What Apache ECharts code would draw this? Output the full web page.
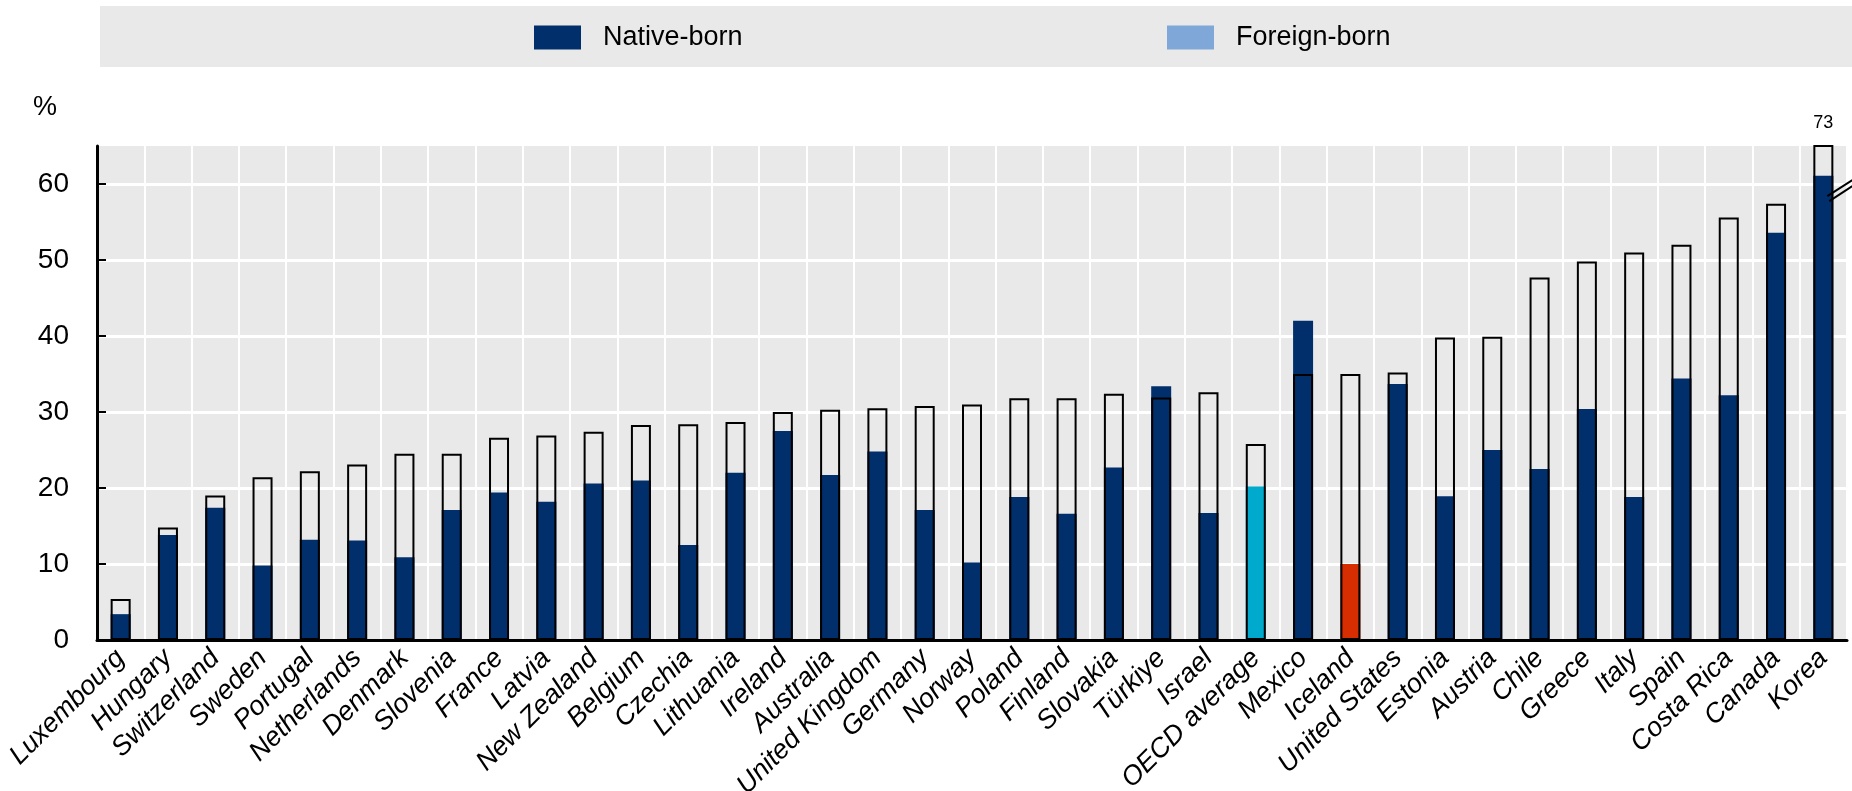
<!DOCTYPE html>
<html>
<head>
<meta charset="utf-8">
<script src="https://cdn.jsdelivr.net/npm/echarts@6/dist/echarts.min.js"></script>
<style>
  html, body { margin: 0; padding: 0; background: #fff; }
  #chart { width: 1852px; height: 791px; }
</style>
</head>
<body>
<div id="chart"></div>
<script>
// data
const countries = ['Luxembourg','Hungary','Switzerland','Sweden','Portugal','Netherlands','Denmark','Slovenia','France','Latvia',
  'New Zealand','Belgium','Czechia','Lithuania','Ireland','Australia','United Kingdom','Germany','Norway','Poland',
  'Finland','Slovakia','Türkiye','Israel','OECD average','Mexico','Iceland','United States','Estonia','Austria',
  'Chile','Greece','Italy','Spain','Costa Rica','Canada','Korea'];
const nativeBorn = [3.4,13.8,17.4,9.8,13.2,13.1,10.9,17.1,19.4,18.2,
  20.6,21.0,12.5,22.0,27.5,21.7,24.8,17.1,10.2,18.8,
  16.6,22.7,33.4,16.7,20.2,42.0,10.0,33.7,18.9,25.0,
  22.5,30.4,18.8,34.4,32.2,53.6,61.1];
const foreignBorn = [5.4,14.8,19.0,21.4,22.2,23.1,24.5,24.5,26.6,26.9,
  27.4,28.3,28.4,28.7,30.0,30.3,30.5,30.8,31.0,31.8,
  31.8,32.4,31.9,32.6,25.8,35.0,35.0,35.2,39.8,39.9,
  47.7,49.8,51.0,52.0,55.6,57.4,73];
const yTicks = [0,10,20,30,40,50,60];
const highlight = { 'OECD average': '#00aacc', 'Iceland': '#d62e00' };

const FONT = "'Liberation Sans Narrow', 'Arial Narrow', 'Liberation Sans', Arial, sans-serif";
const NAVY = '#002f6c';

const chart = echarts.init(document.getElementById('chart'));

const option = {
  animation: false,
  textStyle: { fontFamily: FONT, color: '#000' },
  grid: {
    left: 97, right: 5, top: 146, bottom: 151,
    outerBoundsMode: 'none',
    show: true, backgroundColor: '#e9e9e9', borderWidth: 0
  },
  legend: [
    {
      left: 529, top: 19, itemWidth: 47, itemHeight: 24,
      icon: 'rect', selectedMode: false,
      textStyle: { fontFamily: FONT, fontSize: 27, color: '#000', padding: [0, 0, 0, 17] },
      data: [{ name: 'Native-born', itemStyle: { color: NAVY } }]
    },
    {
      left: 1162, top: 19, itemWidth: 47, itemHeight: 24,
      icon: 'rect', selectedMode: false,
      textStyle: { fontFamily: FONT, fontSize: 27, color: '#000', padding: [0, 0, 0, 17] },
      data: [{ name: 'Foreign-born', itemStyle: { color: '#7fa8d9', borderWidth: 0 } }]
    }
  ],
  xAxis: {
    type: 'category',
    data: countries,
    axisLine: { lineStyle: { color: '#000', width: 3 } },
    axisTick: { inside: true, length: 8, lineStyle: { color: '#000', width: 2 } },
    splitLine: { show: true, lineStyle: { color: '#fff', width: 2 } },
    axisLabel: {
      interval: 0, rotate: 45, margin: 14,
      fontFamily: FONT, fontSize: 27, fontStyle: 'italic', color: '#000'
    }
  },
  yAxis: {
    type: 'value',
    min: 0, max: 65, interval: 10,
    name: '%',
    nameLocation: 'end',
    nameGap: 38,
    nameTextStyle: { fontFamily: FONT, fontSize: 27, color: '#000', align: 'right', verticalAlign: 'middle', padding: [0, 40, 0, 0] },
    axisLine: { show: true, lineStyle: { color: '#000', width: 3 } },
    axisTick: { show: true, inside: true, length: 9, customValues: yTicks, lineStyle: { color: '#000', width: 2 } },
    splitLine: { show: true, lineStyle: { color: '#fff', width: 3 } },
    axisLabel: { customValues: yTicks, margin: 28, fontFamily: FONT, fontSize: 28, color: '#000' }
  },
  series: [
    {
      name: 'Native-born',
      type: 'bar',
      barWidth: 20,
      z: 2,
      itemStyle: { color: NAVY },
      data: nativeBorn.map((v, i) => ({
        value: v,
        itemStyle: { color: highlight[countries[i]] || NAVY }
      }))
    },
    {
      name: 'Foreign-born',
      type: 'bar',
      barWidth: 20,
      barGap: '-100%',
      z: 3,
      clip: true,
      itemStyle: { color: 'rgba(0,0,0,0)', borderColor: '#000', borderWidth: 2 },
      data: foreignBorn
    }
  ]
};

chart.setOption(option);

// legend band, axis-break marks and the cut-off value for Korea
function addDecor() {
  const last = countries.length - 1;
  const top = chart.convertToPixel({ seriesIndex: 0 }, [last, 65]);
  const brk = chart.convertToPixel({ seriesIndex: 0 }, [last, 59.2]);
  chart.setOption({
    graphic: [
      { type: 'rect', z: -10, silent: true, shape: { x: 100, y: 6, width: 1752, height: 61 }, style: { fill: '#e9e9e9' } },
      { type: 'line', z: 10, shape: { x1: brk[0] + 4, y1: brk[1] + 6, x2: brk[0] + 29, y2: brk[1] - 10 }, style: { stroke: '#000', lineWidth: 2 } },
      { type: 'line', z: 10, shape: { x1: brk[0] + 6, y1: brk[1] + 11, x2: brk[0] + 29, y2: brk[1] - 4 }, style: { stroke: '#000', lineWidth: 2 } },
      { type: 'text', z: 10, x: top[0], y: top[1] - 23, style: { text: String(foreignBorn[last]), fontFamily: FONT, fontSize: 18, fill: '#000', align: 'center', verticalAlign: 'middle' } }
    ]
  });
}
addDecor();
</script>
</body>
</html>
